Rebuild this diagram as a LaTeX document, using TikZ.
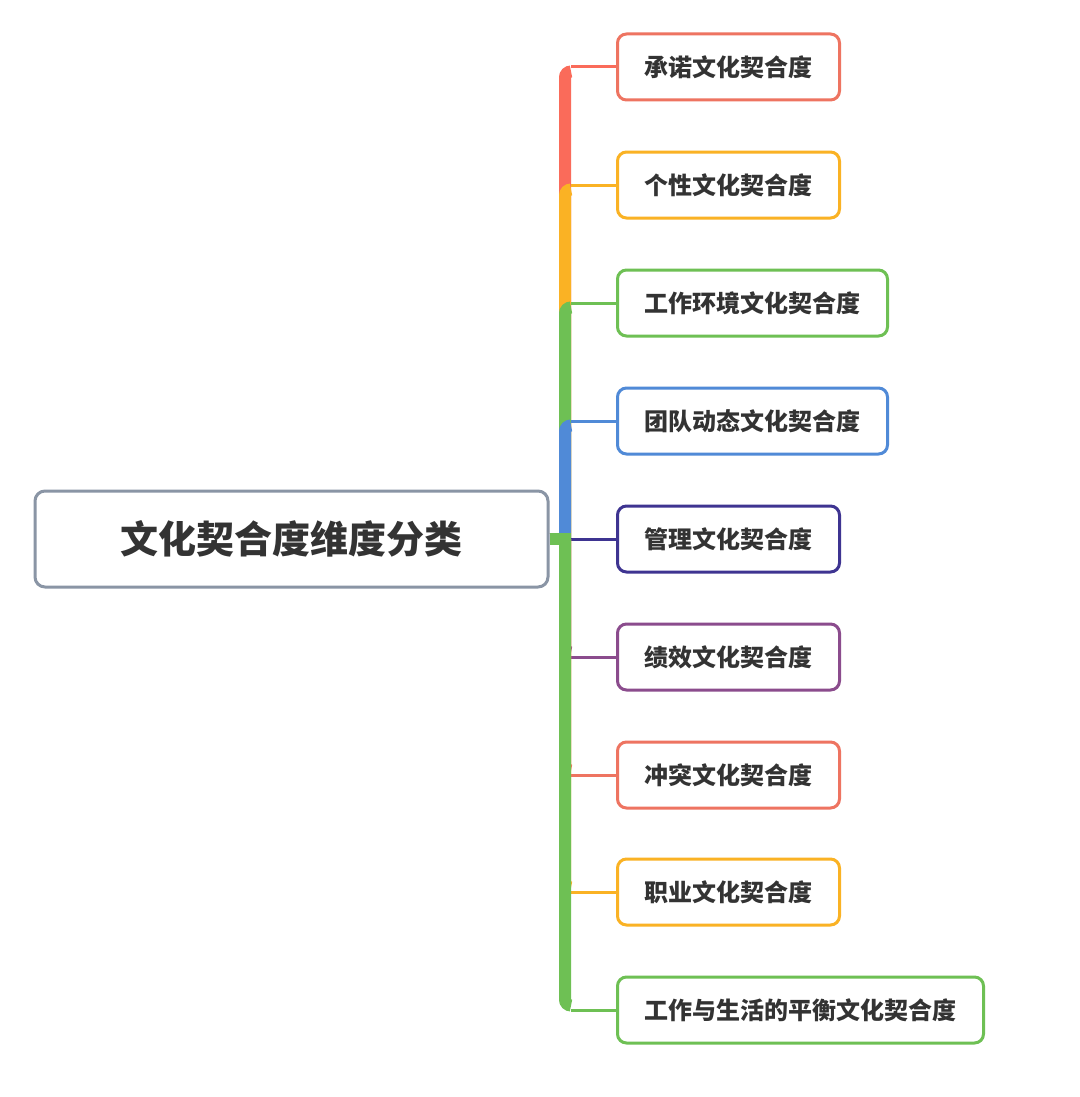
\documentclass[tikz,border=0pt]{standalone}
\usepackage{fontspec}
\usepackage{tikz}
\usepackage{xcolor}
\usetikzlibrary{positioning,calc}
\newfontfamily\cjk{Noto Sans CJK SC}
\definecolor{ink}{RGB}{51,51,51}
\definecolor{rootgray}{RGB}{138,149,165}
\definecolor{cred}{RGB}{250,107,90}
\definecolor{cyellow}{RGB}{250,178,36}
\definecolor{cgreen}{RGB}{110,192,84}
\definecolor{cblue}{RGB}{80,138,215}
\definecolor{cnavy}{RGB}{62,52,145}
\definecolor{cpurple}{RGB}{139,76,141}
\definecolor{csalmon}{RGB}{238,116,97}
\tikzset{
  rootbox/.style={draw=rootgray,line width=1.5pt,rounded corners=5pt,fill=white,
    minimum width=256.5pt,minimum height=48pt,font=\cjk\bfseries\fontsize{19}{23}\selectfont,text=ink},
  topic/.style={draw,line width=1.5pt,rounded corners=4.5pt,fill=white,anchor=west,
    inner xsep=13.5pt,minimum height=33pt,font=\cjk\bfseries\fontsize{12}{14}\selectfont,text=ink},
  trunk/.style={line width=6pt,rounded corners=3pt},
  twig/.style={line width=1.5pt}
}

\begin{document}
\begin{tikzpicture}[x=0.5pt,y=-0.5pt]
  \fill[white] (0,0) rectangle (1080,1097);
  \useasboundingbox (0,0) rectangle (1080,1097);

  \node[rootbox] (root) at (291.5,539) {文化契合度维度分类};
  \coordinate (hub) at (565,539);

  \node[topic,draw=csalmon]  (commit)   at (616,67)   {承诺文化契合度};
  \node[topic,draw=cyellow]  (personal) at (616,185)  {个性文化契合度};
  \node[topic,draw=cgreen]   (workenv)  at (616,303)  {工作环境文化契合度};
  \node[topic,draw=cblue]    (team)     at (616,421)  {团队动态文化契合度};
  \node[topic,draw=cnavy]    (manage)   at (616,539)  {管理文化契合度};
  \node[topic,draw=cpurple]  (perf)     at (616,657)  {绩效文化契合度};
  \node[topic,draw=csalmon]  (conflict) at (616,775)  {冲突文化契合度};
  \node[topic,draw=cyellow]  (career)   at (616,892)  {职业文化契合度};
  \node[topic,draw=cgreen]   (balance)  at (616,1010) {工作与生活的平衡文化契合度};

  % upper branches
  \draw[line width=6pt,cred] (root.east) -- (571,539);
  \draw[trunk,cred] (hub) |- ($(commit.west)+(-45,4.5)$);
  \draw[twig,cred] ($(commit.west)+(-45,0)$) -- (commit.west);

  \draw[line width=6pt,cyellow] (root.east) -- (571,539);
  \draw[trunk,cyellow] (hub) |- ($(personal.west)+(-45,4.5)$);
  \draw[twig,cyellow] ($(personal.west)+(-45,0)$) -- (personal.west);

  \draw[line width=6pt,cgreen] (root.east) -- (571,539);
  \draw[trunk,cgreen] (hub) |- ($(workenv.west)+(-45,4.5)$);
  \draw[twig,cgreen] ($(workenv.west)+(-45,0)$) -- (workenv.west);

  \draw[line width=6pt,cblue] (root.east) -- (571,539);
  \draw[trunk,cblue] (hub) |- ($(team.west)+(-45,4.5)$);
  \draw[twig,cblue] ($(team.west)+(-45,0)$) -- (team.west);

  % middle and lower branches
  \draw[line width=6pt,cnavy] (root.east) -- (571,539);
  \draw[twig,cnavy] ($(manage.west)+(-45,0)$) -- (manage.west);

  \draw[trunk,cpurple] (hub) |- ($(perf.west)+(-45,-4.5)$);
  \draw[twig,cpurple] ($(perf.west)+(-45,0)$) -- (perf.west);

  \draw[trunk,csalmon] (hub) |- ($(conflict.west)+(-45,-4.5)$);
  \draw[twig,csalmon] ($(conflict.west)+(-45,0)$) -- (conflict.west);

  \draw[trunk,cyellow] (hub) |- ($(career.west)+(-45,-4.5)$);
  \draw[twig,cyellow] ($(career.west)+(-45,0)$) -- (career.west);

  \draw[line width=6pt,cgreen] (root.east) -- (571,539);
  \draw[trunk,cgreen] (hub) |- ($(balance.west)+(-45,-4.5)$);
  \draw[twig,cgreen] ($(balance.west)+(-45,0)$) -- (balance.west);
\end{tikzpicture}
\end{document}
